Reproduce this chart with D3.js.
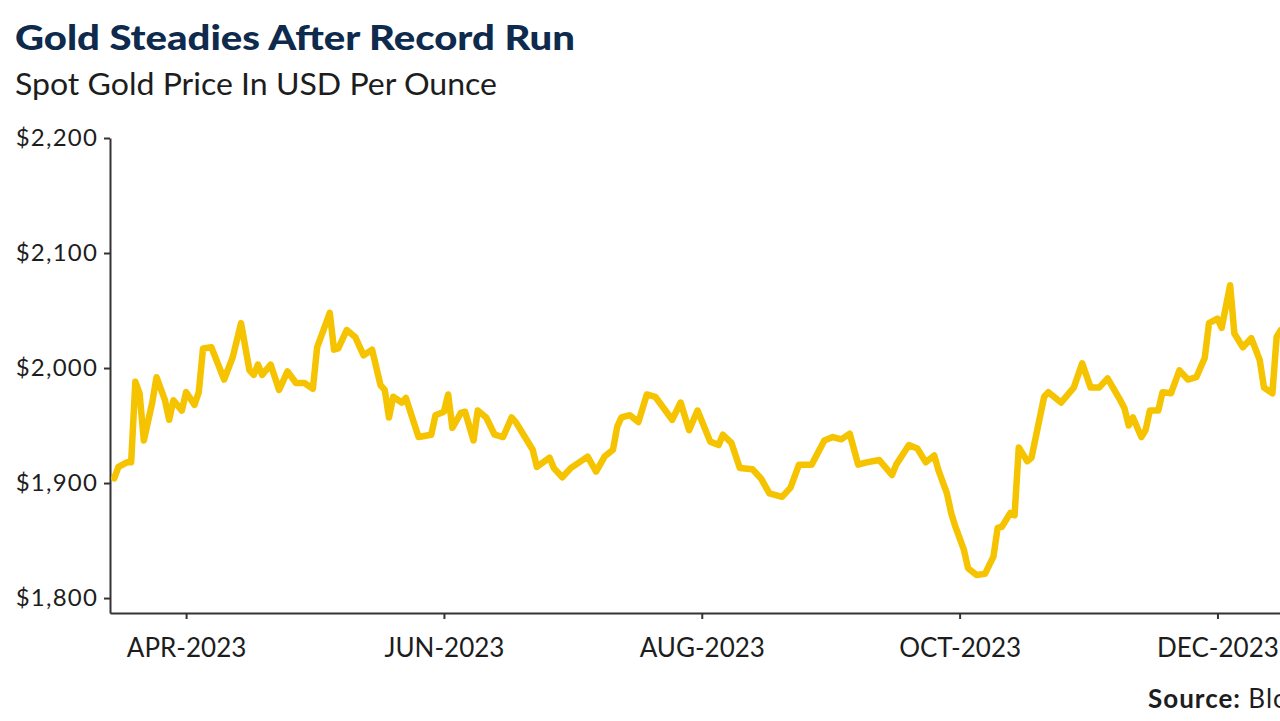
<!DOCTYPE html>
<html lang="en">
<meta charset="utf-8" />
<style>
  body { margin: 0; background: #fff; }
  svg { display: block; }
</style>
<svg width="1280" height="721"></svg>
<script src="https://d3js.org/d3.v7.min.js"></script>
<script>
// spot gold, USD per ounce
var dates = [
  "2023-03-15","2023-03-16","2023-03-18","2023-03-19","2023-03-20","2023-03-21","2023-03-22","2023-03-24",
  "2023-03-25","2023-03-27","2023-03-28","2023-03-29","2023-03-31","2023-04-01","2023-04-03","2023-04-04",
  "2023-04-05","2023-04-07","2023-04-10","2023-04-12","2023-04-14","2023-04-16","2023-04-17","2023-04-18",
  "2023-04-19","2023-04-21","2023-04-23","2023-04-25","2023-04-27","2023-04-29","2023-05-01","2023-05-02",
  "2023-05-05","2023-05-06","2023-05-07","2023-05-09","2023-05-11","2023-05-13","2023-05-15","2023-05-17",
  "2023-05-18","2023-05-19","2023-05-20","2023-05-22","2023-05-23","2023-05-26","2023-05-29","2023-05-30",
  "2023-06-01","2023-06-02","2023-06-03","2023-06-05","2023-06-06","2023-06-08","2023-06-09","2023-06-11",
  "2023-06-13","2023-06-15","2023-06-17","2023-06-18","2023-06-21","2023-06-22","2023-06-23","2023-06-26",
  "2023-06-27","2023-06-29","2023-07-01","2023-07-03","2023-07-05","2023-07-07","2023-07-09","2023-07-11",
  "2023-07-12","2023-07-13","2023-07-15","2023-07-17","2023-07-19","2023-07-21","2023-07-23","2023-07-25",
  "2023-07-27","2023-07-29","2023-07-31","2023-08-03","2023-08-05","2023-08-06","2023-08-08","2023-08-10",
  "2023-08-13","2023-08-15","2023-08-17","2023-08-20","2023-08-22","2023-08-24","2023-08-27","2023-08-30",
  "2023-09-01","2023-09-03","2023-09-05","2023-09-07","2023-09-09","2023-09-12","2023-09-15","2023-09-16",
  "2023-09-19","2023-09-21","2023-09-23","2023-09-25","2023-09-26","2023-09-28","2023-09-29","2023-09-30",
  "2023-10-02","2023-10-03","2023-10-05","2023-10-07","2023-10-09","2023-10-10","2023-10-11","2023-10-13",
  "2023-10-14","2023-10-15","2023-10-17","2023-10-18","2023-10-21","2023-10-22","2023-10-25","2023-10-28",
  "2023-10-30","2023-11-01","2023-11-03","2023-11-05","2023-11-08","2023-11-09","2023-11-10","2023-11-11",
  "2023-11-13","2023-11-14","2023-11-15","2023-11-17","2023-11-18","2023-11-20","2023-11-22","2023-11-24",
  "2023-11-26","2023-11-28","2023-11-29","2023-12-01","2023-12-02","2023-12-04","2023-12-05","2023-12-07",
  "2023-12-09","2023-12-11","2023-12-12","2023-12-14","2023-12-15","2023-12-16","2023-12-18"
];
var prices = [
  1904,1914,1918,1918,1988,1978,1937,1970,
  1992,1972,1955,1972,1963,1979,1968,1979,
  2017,2018,1990,2009,2039,1998,1994,2003,
  1994,2003,1981,1997,1987,1987,1982,2018,
  2048,2016,2017,2033,2027,2011,2016,1985,
  1981,1957,1975,1970,1974,1940,1942,1959,
  1962,1977,1948,1961,1962,1937,1963,1957,
  1942,1940,1957,1953,1935,1929,1914,1922,
  1913,1905,1913,1918,1923,1910,1923,1929,
  1949,1957,1959,1953,1977,1975,1965,1955,
  1970,1946,1963,1936,1933,1942,1935,1913,
  1912,1904,1891,1888,1896,1916,1916,1937,
  1940,1938,1943,1916,1918,1920,1907,1916,
  1933,1930,1918,1924,1911,1891,1874,1862,
  1842,1826,1820,1821,1836,1861,1862,1874,
  1872,1931,1919,1922,1975,1979,1970,1983,
  2004,1983,1983,1991,1972,1965,1950,1957,
  1940,1946,1963,1963,1979,1978,1998,1990,
  1992,2009,2039,2043,2035,2072,2030,2018,
  2026,2007,1983,1978,2027,2033,2036
];
var yTicks = [1800, 1900, 2000, 2100, 2200];
var xTicks = ["2023-04-01", "2023-06-01", "2023-08-01", "2023-10-01", "2023-12-01"];

var parse = d3.timeParse("%Y-%m-%d");
var data = dates.map(function(d, i) { return { date: parse(d), value: prices[i] }; });

var svg = d3.select("svg");

var x = d3.scaleTime()
    .domain([parse("2023-03-14"), parse("2023-12-21")])
    .range([110, 1302]);

var y = d3.scaleLinear()
    .domain([1787, 2200])
    .range([613, 138]);

// titles
svg.append("text")
    .attr("x", 15).attr("y", 50)
    .attr("font-family", "Lato, sans-serif")
    .attr("font-weight", 900)
    .attr("font-size", 35)
    .attr("fill", "#0e2a4d")
    .attr("textLength", 560)
    .attr("lengthAdjust", "spacingAndGlyphs")
    .text("Gold Steadies After Record Run");

svg.append("text")
    .attr("x", 15).attr("y", 95)
    .attr("font-family", "Lato, sans-serif")
    .attr("font-size", 30)
    .attr("fill", "#1d1d1d")
    .attr("textLength", 482)
    .attr("lengthAdjust", "spacingAndGlyphs")
    .text("Spot Gold Price In USD Per Ounce");

// axes
var yAxis = svg.append("g")
    .attr("transform", "translate(110,0)")
    .call(d3.axisLeft(y)
      .tickValues(yTicks)
      .tickSizeInner(6)
      .tickSizeOuter(0)
      .tickPadding(6)
      .tickFormat(function(d) { return "$" + d3.format(",")(d); }));

var xAxis = svg.append("g")
    .attr("transform", "translate(0,613)")
    .call(d3.axisBottom(x)
      .tickValues(xTicks.map(parse))
      .tickSizeInner(6)
      .tickSizeOuter(0)
      .tickPadding(20)
      .tickFormat(function(d) { return d3.timeFormat("%b-%Y")(d).toUpperCase(); }));

svg.selectAll(".domain, .tick line")
    .attr("stroke", "#333")
    .attr("stroke-width", 2);

yAxis.selectAll("text")
    .attr("font-family", "Lato, sans-serif")
    .attr("font-size", 24)
    .attr("letter-spacing", 1.2)
    .attr("fill", "#1d1d1d");

xAxis.selectAll("text")
    .attr("font-family", "Lato, sans-serif")
    .attr("font-size", 26)
    .attr("fill", "#1d1d1d");

// price line
var line = d3.line()
    .x(function(d) { return x(d.date); })
    .y(function(d) { return y(d.value); });

svg.append("path")
    .datum(data)
    .attr("fill", "none")
    .attr("stroke", "#f5c300")
    .attr("stroke-width", 6.5)
    .attr("stroke-linejoin", "round")
    .attr("stroke-linecap", "round")
    .attr("d", line);

// source note (cut off at the right edge like the original)
var src = svg.append("text")
    .attr("x", 1148).attr("y", 708)
    .attr("font-family", "Lato, sans-serif")
    .attr("font-size", 26)
    .attr("letter-spacing", 1)
    .attr("fill", "#1d1d1d");
src.append("tspan").attr("font-weight", 700).text("Source: ");
src.append("tspan").text("Bloomberg");
</script>
</html>
